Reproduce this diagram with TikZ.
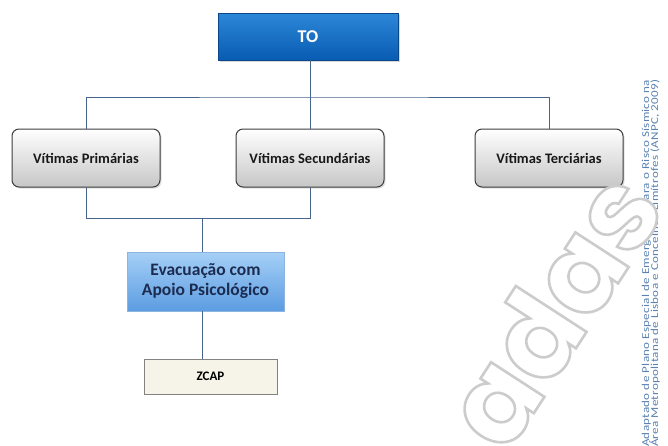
\documentclass[tikz,border=0pt]{standalone}
\usepackage{fontspec}
\setmainfont{Carlito}
\newfontfamily\wmfont{Poppins}
\newfontfamily\srcfont[LetterSpace=2]{Carlito}
\usetikzlibrary{shadows}

\definecolor{toTop}{RGB}{45,135,215}
\definecolor{toBot}{RGB}{8,92,178}
\definecolor{toEdge}{RGB}{10,70,140}
\definecolor{vicEdge}{RGB}{60,60,60}
\definecolor{vicBot}{RGB}{198,198,198}
\definecolor{vicText}{RGB}{25,25,25}
\definecolor{evTop}{RGB}{165,208,246}
\definecolor{evBot}{RGB}{92,156,226}
\definecolor{evEdge}{RGB}{140,180,222}
\definecolor{evText}{RGB}{28,44,80}
\definecolor{zcFill}{RGB}{246,243,232}
\definecolor{zcEdge}{RGB}{130,130,130}
\definecolor{linkCol}{RGB}{70,100,140}
\definecolor{srcCol}{RGB}{90,130,178}

% hollow lettering: white fill with a grey stroked outline
\newcommand{\hollowtext}[1]{%
  \special{pdf:literal direct 2 Tr 2.6 w 0.8 G}#1\special{pdf:literal direct 0 Tr 1 w 0 G}}

\tikzset{
  topbox/.style={draw=toEdge, line width=0.6pt, top color=toTop, bottom color=toBot,
    minimum width=180pt, minimum height=47pt, text=white,
    font=\bfseries\fontsize{18}{20}\selectfont,
    drop shadow={opacity=0.3, shadow xshift=1.5pt, shadow yshift=-1.5pt}},
  victim/.style={draw=vicEdge, line width=1pt, rounded corners=7pt,
    top color=white, bottom color=vicBot,
    minimum width=148pt, minimum height=58pt, text=vicText,
    font=\bfseries\fontsize{14.5}{16}\selectfont,
    drop shadow={opacity=0.25, shadow xshift=1.5pt, shadow yshift=-1.5pt}},
  evacbox/.style={draw=evEdge, line width=0.6pt, top color=evTop, bottom color=evBot,
    minimum width=157pt, minimum height=59pt, text=evText, align=center,
    font=\bfseries\fontsize{17.5}{20}\selectfont,
    drop shadow={opacity=0.2, shadow xshift=1.2pt, shadow yshift=-1.2pt}},
  zcapbox/.style={draw=zcEdge, line width=0.8pt, fill=zcFill,
    minimum width=133pt, minimum height=35pt,
    font=\bfseries\fontsize{13}{15}\selectfont},
  link/.style={draw=linkCol, line width=0.7pt},
  srctext/.style={rotate=90, anchor=base west, inner sep=0pt, text=srcCol,
    font=\srcfont\fontsize{10.5}{10.5}\selectfont}
}

\begin{document}
\begin{tikzpicture}[x=1pt, y=1pt]
  \useasboundingbox (0,0) rectangle (668,-445);
  \fill[white] (0,0) rectangle (668,-445);

  % hierarchy boxes
  \node[topbox] (to) at (308,-36.5) {TO};
  \node[victim] (prim) at (86,-158) {Vítimas Primárias};
  \node[victim] (sec) at (310,-158) {Vítimas Secundárias};
  \node[victim] (terc) at (549,-158) {Vítimas Terciárias};
  \node[evacbox] (evac) at (205.5,-281.5) {Evacuação com\\Apoio Psicológico};
  \node[zcapbox] (zcap) at (210.5,-376.5) {ZCAP};

  % junction points of the connectors
  \coordinate (jtop) at (310,-97);
  \coordinate (jbot) at (202,-218);

  % connectors
  \draw[link] (to.south -| jtop) -- (jtop);
  \draw[link] (prim.north) |- (jtop) -| (terc.north);
  \draw[link] (jtop) -- (sec.north);
  \draw[link] (prim.south) |- (sec.south |- jbot) -- (sec.south);
  \draw[link] (jbot) -- (evac.north -| jbot);
  \draw[link] (evac.south -| jbot) -- (zcap.north -| jbot);

  % source note along the right edge
  \node[srctext] (src1) at (649,-447)
    {\resizebox{367pt}{\height}{Adaptado de Plano Especial de Emergência para o Risco Sísmico na}};
  \node[srctext] (src2) at (658,-447)
    {\resizebox{367pt}{\height}{Área Metropolitana de Lisboa e Concelhos Limítrofes (ANPC, 2009)}};

  % hollow watermark
  \node[rotate=57, anchor=base west, inner sep=0pt, text=white,
        font=\wmfont\bfseries\fontsize{114}{114}\selectfont] (wm) at (506,-456)
    {\hollowtext{adas}};
\end{tikzpicture}
\end{document}
